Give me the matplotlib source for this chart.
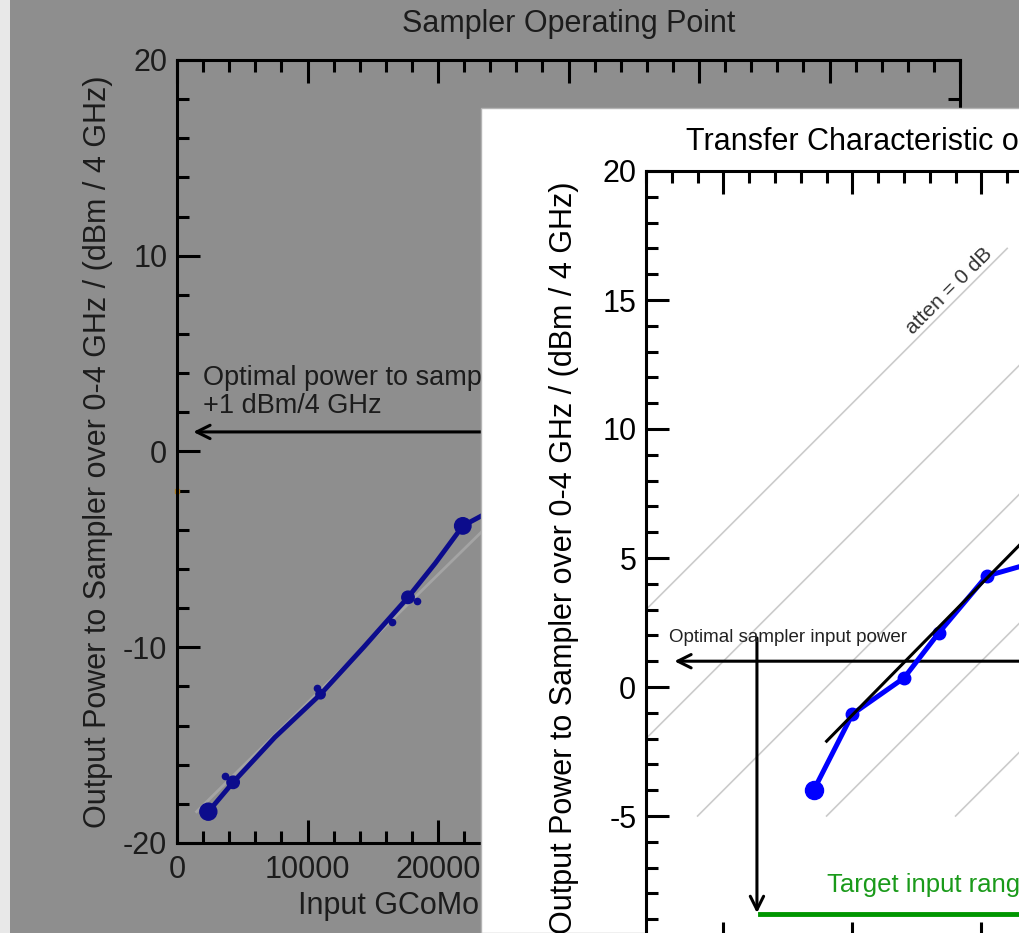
import matplotlib
matplotlib.use("Agg")
from matplotlib import pyplot as plt
from matplotlib.ticker import MultipleLocator
from matplotlib.patches import Rectangle

plt.rcParams['font.family'] = ['Liberation Sans', 'DejaVu Sans']
plt.rcParams['axes.unicode_minus'] = False

W, H = 1019, 933

# sampler operating point: GCoMo detector counts vs power into the sampler
op_counts = [2400, 4300, 7500, 11000, 14300, 17700, 19800, 21900, 23300]
op_power = [-18.4, -16.9, -14.6, -12.4, -10.0, -7.45, -5.7, -3.8, -3.3]
op_blobs = [0, 1, 3, 5, 7]
stray_counts = [3700, 10700, 16500, 18400]
stray_power = [-16.6, -12.1, -8.7, -7.65]
op_fit_counts = [1500, 40000]
op_fit_power = [-18.4, 6.8]
op_ref_counts = [0]
op_ref_power = [-2.0]

# transfer characteristic of the chain
xfer_in = [-21.5, -20.0, -18.0, -16.65, -14.8, -12.0]
xfer_out = [-4.0, -1.05, 0.35, 2.1, 4.3, 5.1]
xfer_fit_in = [-21.0, -9.0]
xfer_fit_out = [-2.1, 10.1]
chain_gain = 31.0
attens = [0, 5, 10, 15, 20, 25, 30, 35, 40]
atten_out = [-5.0, 17.0]

optimal_out = 1.0
optimal_in = -23.7
target_in = [-23.6, -10.0]
target_level = -8.8

BACK_TXT = '#1c1c1c'
BACK_BLUE = '#0c0c8c'


def idl_axes(ax, xmaj, xmin, ymaj, ymin, txtcolor):
    for s in ax.spines.values():
        s.set_linewidth(2.2)
        s.set_color('black')
    ax.xaxis.set_major_locator(MultipleLocator(xmaj))
    ax.xaxis.set_minor_locator(MultipleLocator(xmin))
    ax.yaxis.set_major_locator(MultipleLocator(ymaj))
    ax.yaxis.set_minor_locator(MultipleLocator(ymin))
    ax.tick_params(which='both', direction='in', top=True, right=True,
                   width=2.2, color='black', labelsize=22, labelcolor=txtcolor)
    ax.tick_params(which='major', length=16.5)
    ax.tick_params(which='minor', length=8.5)
    ax.tick_params(axis='y', pad=7)
    ax.tick_params(axis='x', pad=9)


fig = plt.figure(figsize=(W / 100, H / 100), dpi=100, facecolor='#8e8e8e')

# --- window behind: sampler operating point ---
ax_b = fig.add_axes([177 / W, 1 - 843 / H, 783 / W, 783 / H])
ax_b.set_facecolor('#8e8e8e')
ax_b.plot(op_fit_counts, op_fit_power, color='#a4a4a4', lw=2)
ax_b.plot(op_counts, op_power, color=BACK_BLUE, lw=3.5)
ax_b.scatter([op_counts[i] for i in op_blobs], [op_power[i] for i in op_blobs],
             s=[150, 80, 45, 80, 140], color=BACK_BLUE, zorder=3)
ax_b.plot(stray_counts, stray_power, ls='none', marker='o', ms=4.5, color=BACK_BLUE)
ax_b.plot(op_ref_counts, op_ref_power, 's', ms=3, color='#b07d1c', clip_on=False)
ax_b.annotate('', xy=(1250, optimal_out), xytext=(40000, optimal_out),
              arrowprops=dict(arrowstyle='->', lw=2.2, color='black',
                              mutation_scale=24, shrinkA=0, shrinkB=0))
ax_b.text(2000, 3.42, 'Optimal power to sampler', fontsize=19.5, color=BACK_TXT)
ax_b.text(2000, 1.99, '+1 dBm/4 GHz', fontsize=19.5, color=BACK_TXT)
ax_b.set_xlim(0, 60000)
ax_b.set_ylim(-20, 20)
idl_axes(ax_b, 10000, 2000, 10, 2, BACK_TXT)
ax_b.set_title('Sampler Operating Point', fontsize=22, pad=20, color=BACK_TXT)
ax_b.set_xlabel('Input GCoMo Detector Output / (counts)', fontsize=22,
                labelpad=4, color=BACK_TXT)
ax_b.set_ylabel('Output Power to Sampler over 0-4 GHz / (dBm / 4 GHz)',
                fontsize=22, labelpad=7, color=BACK_TXT)

# light strip at the left edge of the screen
fig.add_artist(Rectangle((0, 0), 10 / W, 1, transform=fig.transFigure,
                         facecolor='#e8e8e8', edgecolor='none', zorder=1))

# --- window in front: transfer characteristic ---
fig.add_artist(Rectangle((481 / W, 0), 1, 1 - 108 / H, transform=fig.transFigure,
                         facecolor='white', edgecolor='#b4b4b4', lw=1, zorder=1))

ax_f = fig.add_axes([646 / W, 1 - 945 / H, 774 / W, 774 / H], zorder=2)
ax_f.set_facecolor('white')
for a in attens:
    ax_f.plot([o - chain_gain + a for o in atten_out], atten_out,
              color='#cbcbcb', lw=1.2, zorder=1)
ax_f.text(-16.0, 15.1, 'atten = 0 dB', rotation=45, rotation_mode='anchor',
          ha='center', va='bottom', fontsize=15, color='#333333')

ax_f.annotate('', xy=(-26.9, optimal_out), xytext=(0, optimal_out),
              arrowprops=dict(arrowstyle='->', lw=2.2, color='black',
                              mutation_scale=24, shrinkA=0, shrinkB=0))
ax_f.annotate('', xy=(optimal_in, -8.76), xytext=(optimal_in, 1.9),
              arrowprops=dict(arrowstyle='->', lw=2.2, color='black',
                              mutation_scale=24, shrinkA=0, shrinkB=0))
ax_f.text(-27.1, 1.74, 'Optimal sampler input power', fontsize=13.5, color='#222222')

ax_f.plot(target_in, [target_level, target_level], color='#009600', lw=3.5)
ax_f.text(-21.0, -7.95, 'Target input range', fontsize=18.5, color='#1a9a1a')

ax_f.plot(xfer_in, xfer_out, color='#0000ff', lw=3.6, marker='o', ms=9, zorder=3)
ax_f.plot(xfer_in[:1], xfer_out[:1], 'o', color='#0000ff', ms=13, zorder=3)
ax_f.plot(xfer_fit_in, xfer_fit_out, color='black', lw=2.2, zorder=4)

ax_f.set_xlim(-28, 2)
ax_f.set_ylim(-10, 20)
idl_axes(ax_f, 5, 1, 5, 1, 'black')
ax_f.set_xlabel('Input Power / dBm', fontsize=22)
ax_f.set_ylabel('Output Power to Sampler over 0-4 GHz / (dBm / 4 GHz)',
                fontsize=22, labelpad=9)
fig.text(686 / W, 1 - 150 / H, 'Transfer Characteristic of the Sampler Chain',
         fontsize=22, ha='left', va='baseline', zorder=3)

fig.savefig('out.png', dpi=100, facecolor=fig.get_facecolor())
